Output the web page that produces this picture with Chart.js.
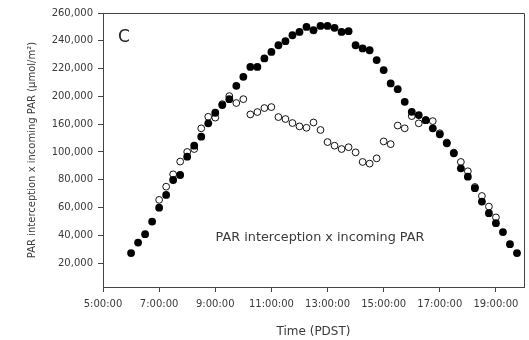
<!DOCTYPE html>
<html>
<head>
<meta charset="utf-8">
<script src="https://cdn.jsdelivr.net/npm/chart.js@4.4.1/dist/chart.umd.min.js"></script>
<style>
  html, body { margin: 0; padding: 0; background: #fff; }
  #chart { display: block; }
</style>
</head>
<body>
<canvas id="chart" width="529" height="340"></canvas>
<script>
// full canopy (filled dots)
const fullTimes = ['6:00','6:15','6:30','6:45','7:00','7:15','7:30','7:45','8:00','8:15','8:30','8:45',
  '9:00','9:15','9:30','9:45','10:00','10:15','10:30','10:45','11:00','11:15','11:30','11:45',
  '12:00','12:15','12:30','12:45','13:00','13:15','13:30','13:45','14:00','14:15','14:30','14:45',
  '15:00','15:15','15:30','15:45','16:00','16:15','16:30','16:45','17:00','17:15','17:30','17:45',
  '18:00','18:15','18:30','18:45','19:00','19:15','19:30','19:45'];
const fullValues = [27200, 34800, 40800, 49900, 59900, 69100, 79800, 83400, 96600, 104500, 111000, 120600,
  128200, 133700, 138000, 147600, 154100, 161200, 161200, 167300, 172000, 176800, 179700, 184000,
  186400, 190000, 187600, 190700, 190700, 189300, 186400, 186900, 176800, 174500, 173200, 166100,
  158900, 149300, 145200, 136100, 128900, 126500, 122900, 117000, 112700, 106200, 99000, 88200,
  82200, 73900, 64300, 55900, 48700, 42300, 33600, 27200];

// second series (open circles)
const openTimes = ['7:00','7:15','7:30','7:45','8:00','8:15','8:30','8:45','9:00','9:15','9:30','9:45',
  '10:00','10:15','10:30','10:45','11:00','11:15','11:30','11:45','12:00','12:15','12:30','12:45',
  '13:00','13:15','13:30','13:45','14:00','14:15','14:30','14:45','15:00','15:15','15:30','15:45',
  '16:00','16:15','16:30','16:45','17:00','17:15','17:30','17:45','18:00','18:15','18:30','18:45','19:00'];
const openValues = [65500, 75000, 83900, 93100, 100000, 102100, 117000, 125300, 124700, 134400, 140200, 135200,
  138000, 127000, 128700, 131600, 132300, 125100, 123700, 120800, 118400, 117400, 121200, 115800,
  107100, 104500, 102100, 103400, 99700, 92800, 91600, 95400, 107600, 105600, 119000, 117000,
  125800, 120600, 122900, 122200, 113500, 106800, 99500, 92800, 86100, 74800, 68300, 60700, 52900];

const xTickHours = [5, 7, 9, 11, 13, 15, 17, 19];
const yTickValues = [20000, 40000, 60000, 80000, 100000, 120000, 140000, 160000, 180000, 200000];
const yTickLabels = ['20,000', '40,000', '60,000', '80,000', '100,000', '160,000', '200,000', '220,000', '240,000', '260,000'];

const toHours = t => { const [h, m] = t.split(':').map(Number); return h + m / 60; };
const toPoints = (times, vals) => times.map((t, i) => ({ x: toHours(t), y: vals[i] }));

Chart.defaults.font.family = 'DejaVu Sans';
Chart.defaults.color = '#3a3a3a';

const axisColor = '#444';

// box frame + panel letter + caption
const extras = {
  id: 'extras',
  afterDraw(chart) {
    const { ctx, chartArea: a } = chart;
    ctx.save();
    ctx.strokeStyle = axisColor;
    ctx.lineWidth = 1;
    ctx.beginPath();
    ctx.moveTo(a.left, a.top + 0.5);
    ctx.lineTo(a.right + 0.5, a.top + 0.5);
    ctx.lineTo(a.right + 0.5, a.bottom);
    ctx.stroke();

    ctx.fillStyle = '#222';
    ctx.textBaseline = 'middle';
    ctx.font = '17px "DejaVu Sans"';
    ctx.fillText('C', a.left + 15, a.top + 25);

    ctx.fillStyle = '#3a3a3a';
    ctx.textAlign = 'center';
    ctx.font = '12.8px "DejaVu Sans"';
    ctx.fillText('PAR interception x incoming PAR', a.left + 217, a.bottom - 49);
    ctx.restore();
  }
};

new Chart(document.getElementById('chart'), {
  type: 'scatter',
  data: {
    datasets: [
      {
        label: 'open',
        data: toPoints(openTimes, openValues),
        pointRadius: 3.4,
        pointBorderWidth: 1,
        pointBackgroundColor: '#fff',
        pointBorderColor: '#111',
        order: 2
      },
      {
        label: 'filled',
        data: toPoints(fullTimes, fullValues),
        pointRadius: 3.9,
        pointBorderWidth: 0,
        pointBackgroundColor: '#000',
        pointBorderColor: '#000',
        order: 1
      }
    ]
  },
  options: {
    responsive: false,
    animation: false,
    layout: { padding: { top: 13, right: 2, bottom: 0, left: 0 } },
    plugins: { legend: { display: false }, tooltip: { enabled: false } },
    scales: {
      x: {
        type: 'linear',
        min: 5,
        max: 20,
        afterBuildTicks: axis => { axis.ticks = xTickHours.map(v => ({ value: v })); },
        afterFit: s => { s.height = 53; },
        ticks: {
          callback: v => v + ':00:00',
          maxRotation: 0,
          autoSkip: false,
          padding: 6,
          font: { size: 10 }
        },
        grid: { drawOnChartArea: false, tickLength: 5, color: axisColor },
        border: { color: axisColor },
        title: { display: true, text: 'Time (PDST)', font: { size: 12 }, padding: { top: 0, bottom: 1 } }
      },
      y: {
        type: 'linear',
        min: 2800,
        max: 200000,
        afterBuildTicks: axis => { axis.ticks = yTickValues.map(v => ({ value: v })); },
        afterFit: s => { s.width = 103; },
        ticks: {
          callback: (v, i) => yTickLabels[i],
          padding: 5,
          font: { size: 10 }
        },
        grid: { drawOnChartArea: false, tickLength: 5, color: axisColor },
        border: { color: axisColor },
        title: {
          display: true,
          text: 'PAR interception x incoming PAR (μmol/m²)',
          font: { size: 10 },
          padding: { top: 26, bottom: 0 }
        }
      }
    }
  },
  plugins: [extras]
});
</script>
</body>
</html>
